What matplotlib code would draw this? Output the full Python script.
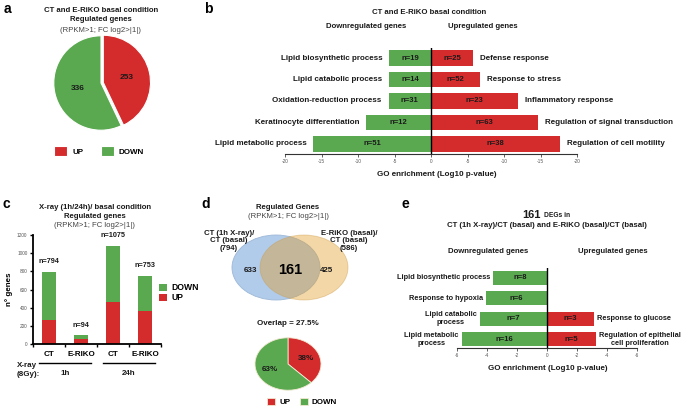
import matplotlib
matplotlib.use('Agg')
import numpy as np
import matplotlib.pyplot as plt
from matplotlib.patches import Ellipse

plt.rcParams['font.family'] = ['Liberation Sans', 'DejaVu Sans']

W, H = 685, 411
RED = '#d42b2d'
GREEN = '#5aa950'
BLUE = '#b1cbea'
YELLOW = '#e39b21'
DARK = '#1a1a1a'

# ---- data ----
# a
pie_a_labels = ['UP', 'DOWN']
pie_a_values = [253, 336]

# b
b_down_terms = ['Lipid biosynthetic process', 'Lipid catabolic process',
                'Oxidation-reduction process', 'Keratinocyte differentiation',
                'Lipid metabolic process']
b_down_vals = [5.7, 5.7, 5.8, 8.9, 16.1]
b_down_n = [19, 14, 31, 12, 51]
b_up_terms = ['Defense response', 'Response to stress', 'Inflammatory response',
              'Regulation of signal transduction', 'Regulation of cell motility']
b_up_vals = [5.8, 6.7, 11.9, 14.7, 17.7]
b_up_n = [25, 52, 23, 63, 38]

# c
c_groups = ['CT', 'E-RIKO', 'CT', 'E-RIKO']
c_times = ['1h', '24h']
c_total = [794, 94, 1075, 753]
c_up = [260, 50, 465, 365]

# d
venn_names = ['CT (1h X-ray)/\nCT (basal)\n(794)', 'E-RiKO (basal)/\nCT (basal)\n(586)']
venn_only = [633, 425]
venn_shared = 161
overlap_pct = 27.5
pie_d_labels = ['UP', 'DOWN']
pie_d_values = [38, 63]

# e
e_down_terms = ['Lipid biosynthetic process', 'Response to hypoxia',
                'Lipid catabolic\nprocess', 'Lipid metabolic\nprocess']
e_down_vals = [3.6, 4.1, 4.5, 5.7]
e_down_n = [8, 6, 7, 16]
e_up_rows = [2, 3]
e_up_terms = ['Response to glucose', 'Regulation of epithelial\ncell proliferation']
e_up_vals = [3.15, 3.25]
e_up_n = [3, 5]

fig = plt.figure(figsize=(W / 100, H / 100), dpi=100)


def box(x0, y0, x1, y1):
    return fig.add_axes([x0 / W, 1 - y1 / H, (x1 - x0) / W, (y1 - y0) / H])


def txt(x, y, s, **kw):
    kw.setdefault('ha', 'center')
    kw.setdefault('va', 'center')
    kw.setdefault('fontsize', 5.6)
    kw.setdefault('color', DARK)
    return fig.text(x / W, 1 - y / H, s, **kw)


def go_panel(ax, down_terms, down_vals, down_n, up_rows, up_terms, up_vals, up_n,
             lim, step, gap, bh, fs):
    ys = np.arange(len(down_terms))[::-1]
    ax.barh(ys, -np.array(down_vals), height=bh, color=GREEN)
    for y, t, v, n in zip(ys, down_terms, down_vals, down_n):
        ax.text(-v / 2, y, f'n={n}', ha='center', va='center', fontsize=5.5,
                fontweight='bold', color=DARK)
        ax.annotate(t, (-v, y), xytext=(-gap, 0), textcoords='offset points',
                    ha='right', va='center', fontsize=fs, fontweight='bold',
                    multialignment='center', color=DARK, annotation_clip=False)
    uy = ys[up_rows]
    ax.barh(uy, up_vals, height=bh, color=RED)
    for y, t, v, n in zip(uy, up_terms, up_vals, up_n):
        ax.text(v / 2, y, f'n={n}', ha='center', va='center', fontsize=5.5,
                fontweight='bold', color=DARK)
        ax.annotate(t, (v, y), xytext=(gap, 0), textcoords='offset points',
                    ha='left', va='center', fontsize=fs, fontweight='bold',
                    multialignment='center', color=DARK, annotation_clip=False)
    ax.axvline(0, color='black', lw=1)
    ax.set_xlim(-lim, lim)
    ticks = np.arange(-lim, lim + step, step)
    ax.set_xticks(ticks, ['0' if t == 0 else f'{-abs(t):g}' for t in ticks])
    ax.tick_params(axis='x', labelsize=3.4, labelcolor='#555555', length=2,
                   width=0.6, pad=1.5, color='#444444')
    ax.set_yticks([])
    for s in ['top', 'left', 'right']:
        ax.spines[s].set_visible(False)
    ax.spines['bottom'].set_linewidth(0.8)
    ax.spines['bottom'].set_color('#333333')
    ax.set_facecolor('none')


# ---- panel letters ----
for letter, (x, y) in zip('abcde', [(7, 9), (208, 9), (6, 204), (206, 204), (405, 204)]):
    txt(x, y, letter, fontsize=10, fontweight='bold', color='black')

# ---- a ----
txt(101, 10, 'CT and E-RiKO basal condition', fontweight='bold')
txt(101, 19.5, 'Regulated genes', fontweight='bold')
txt(101, 30, '(RPKM>1; FC log2>|1|)', color='#444444')
axa = box(50, 32, 152, 134)
tot_a = sum(pie_a_values)
wa, _, _ = axa.pie(pie_a_values, colors=[RED, GREEN], startangle=90, counterclock=False,
                   explode=[0.05, 0], autopct=lambda p: f'{round(p * tot_a / 100)}',
                   pctdistance=0.5, wedgeprops=dict(edgecolor='white', lw=0.8),
                   textprops=dict(fontsize=6, fontweight='bold', color=DARK))
axa.set_xlim(-1.08, 1.08)
axa.set_ylim(-1.08, 1.08)
fig.legend(wa, pie_a_labels, loc='center', bbox_to_anchor=(99 / W, 1 - 151 / H),
           ncol=2, frameon=False, handlelength=1.6, handleheight=1.4,
           handletextpad=0.6, columnspacing=2.2,
           prop=dict(size=5.8, weight='bold'))

# ---- b ----
txt(429, 12, 'CT and E-RiKO basal condition', fontweight='bold')
txt(366, 26, 'Downregulated genes', fontweight='bold')
txt(483, 26, 'Upregulated genes', fontweight='bold')
axb = box(285, 48, 577, 154)
go_panel(axb, b_down_terms, b_down_vals, b_down_n, [0, 1, 2, 3, 4], b_up_terms,
         b_up_vals, b_up_n, 20, 5, 5, 0.72, 5.8)
axb.set_ylim(-0.47, 4.47)
txt(437, 174, 'GO enrichment (Log10 p-value)', fontweight='bold', fontsize=5.8)

# ---- c ----
txt(95, 207, 'X-ray (1h/24h)/ basal condition', fontweight='bold')
txt(95, 216, 'Regulated genes', fontweight='bold')
txt(95, 225.5, '(RPKM>1; FC log2>|1|)', color='#444444')
axc = box(33, 235, 161, 344)
xc = np.arange(len(c_groups))
c_down = np.subtract(c_total, c_up)
bu = axc.bar(xc, c_up, width=0.42, color=RED, label='UP')
bd = axc.bar(xc, c_down, bottom=c_up, width=0.42, color=GREEN, label='DOWN')
for x, t in zip(xc, c_total):
    axc.annotate(f'n={t}', (x, t), xytext=(0, 5), textcoords='offset points',
                 ha='center', va='bottom', fontsize=5.2, fontweight='bold', color=DARK)
axc.set_xlim(-0.5, len(c_groups) - 0.5)
axc.set_ylim(0, 1200)
axc.set_yticks(np.arange(0, 1201, 200))
axc.set_xticks(xc, c_groups)
axc.set_xticks(np.arange(-0.5, len(c_groups)), minor=True)
axc.tick_params(axis='x', which='major', length=0, labelsize=5.8, pad=5)
axc.tick_params(axis='x', which='minor', length=2.5, width=1)
axc.tick_params(axis='y', labelsize=3.4, labelcolor='#555555', length=2.5, width=1, pad=1.5)
for lab in axc.get_xticklabels():
    lab.set_fontweight('bold')
for s in ['top', 'right']:
    axc.spines[s].set_visible(False)
for s in ['left', 'bottom']:
    axc.spines[s].set_linewidth(1.3)
axc.set_ylabel('n° genes', fontsize=5.8, fontweight='bold', labelpad=3)
axc.legend([bd, bu], ['DOWN', 'UP'], loc='center left',
           bbox_to_anchor=(0.96, 0.47), frameon=False, handlelength=0.9,
           handleheight=0.9, handletextpad=0.5, labelspacing=0.15, borderaxespad=0,
           prop=dict(size=6.2, weight='bold'))
trc = axc.get_xaxis_transform()
for g, tname in enumerate(c_times):
    i0, i1 = 2 * g, 2 * g + 1
    axc.plot([i0 - 0.3, i1 + 0.3], [-0.174, -0.174], color='black', lw=1,
             transform=trc, clip_on=False)
    axc.text((i0 + i1) / 2, -0.275, tname, transform=trc, ha='center', va='center',
             fontsize=5.8, fontweight='bold', color=DARK)
txt(17, 365, 'X-ray', ha='left', fontweight='bold', fontsize=5.8)
txt(17, 374.5, '(8Gy):', ha='left', fontweight='bold', fontsize=5.8)

# ---- d ----
txt(288, 207, 'Regulated Genes', fontweight='bold')
txt(288, 216, '(RPKM>1; FC log2>|1|)', color='#444444')
axv = box(220, 228, 360, 305)
axv.set_xlim(220, 360)
axv.set_ylim(305, 228)
axv.axis('off')
vcx, vcy, vsep, vrx, vry = 290, 267.5, 28, 88, 65
axv.add_patch(Ellipse((vcx - vsep / 2, vcy), vrx, vry, facecolor=BLUE,
                      edgecolor='#9db8d8', lw=0.6))
axv.add_patch(Ellipse((vcx + vsep / 2, vcy), vrx, vry, facecolor=YELLOW, alpha=0.4,
                      edgecolor='#c9953d', lw=0.6))
axv.text(vcx - vsep / 2 - 26, vcy + 3, f'{venn_only[0]}', ha='center', va='center',
         fontsize=5.8, fontweight='bold', color=DARK)
axv.text(vcx + vsep / 2 + 22, vcy + 3, f'{venn_only[1]}', ha='center', va='center',
         fontsize=5.8, fontweight='bold', color=DARK)
axv.text(vcx, vcy + 2, f'{venn_shared}', ha='center', va='center',
         fontsize=10.5, fontweight='bold', color='black')
txt(229, 241, venn_names[0], fontweight='bold', linespacing=1.1)
txt(349, 241, venn_names[1], fontweight='bold', linespacing=1.1)
txt(288, 323, f'Overlap = {overlap_pct}%', fontweight='bold', fontsize=5.8)
axd = box(254, 337, 322, 391)
tot_d = sum(pie_d_values)
wd, _, _ = axd.pie(pie_d_values, colors=[RED, GREEN], startangle=90, counterclock=False,
                   autopct=lambda p: f'{round(p * tot_d / 100)}%', pctdistance=0.6,
                   wedgeprops=dict(edgecolor='#f3e9d2', lw=0.6),
                   textprops=dict(fontsize=5.8, fontweight='bold', color=DARK))
axd.set_aspect('auto')
axd.set_xlim(-1.03, 1.03)
axd.set_ylim(-1.03, 1.03)
fig.legend(wd, pie_d_labels, loc='center', bbox_to_anchor=(302 / W, 1 - 402 / H),
           ncol=2, frameon=False, handlelength=1.0, handleheight=1.0,
           handletextpad=0.5, columnspacing=1.2,
           prop=dict(size=5.8, weight='bold'))

# ---- e ----
txt(531, 215, '161', fontweight='bold', fontsize=8)
txt(557, 215.5, 'DEGs in', fontweight='bold', fontsize=4.8)
txt(547, 225, 'CT (1h X-ray)/CT (basal) and E-RiKO (basal)/CT (basal)', fontweight='bold')
txt(488, 251, 'Downregulated genes', fontweight='bold')
txt(613, 251, 'Upregulated genes', fontweight='bold')
axe = box(457, 268, 637, 348)
go_panel(axe, e_down_terms, e_down_vals, e_down_n, e_up_rows, e_up_terms,
         e_up_vals, e_up_n, 6, 2, 2, 0.69, 5.3)
axe.set_ylim(-0.44, 3.49)
txt(548, 368, 'GO enrichment (Log10 p-value)', fontweight='bold', fontsize=5.8)

fig.savefig('out.png', dpi=100)
